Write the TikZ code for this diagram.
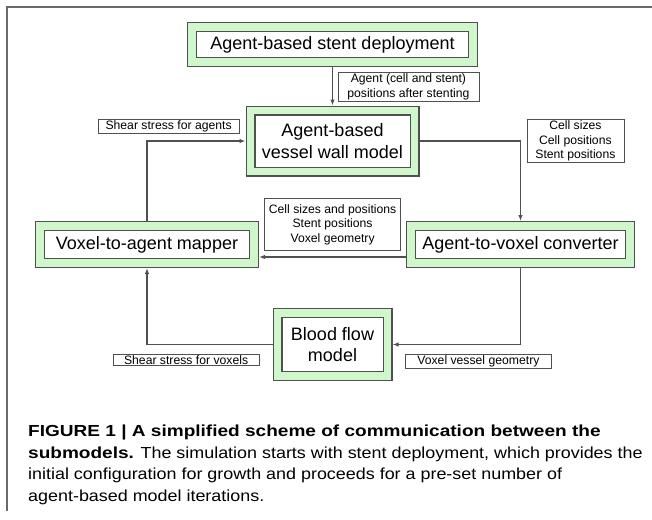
\documentclass[tikz,border=0pt]{standalone}
\usepackage{fontspec}
\setmainfont{Liberation Sans}
\newfontfamily\capfont[FakeStretch=1.12, BoldFeatures={FakeStretch=1.19}]{Liberation Sans}
\usetikzlibrary{arrows.meta}

\definecolor{boxgreen}{RGB}{208,247,204}
\definecolor{linegray}{RGB}{80,80,80}
\definecolor{framegray}{RGB}{105,105,105}

\tikzset{
    model/.style={draw=linegray, line width=1.1pt, double=boxgreen, double distance=7.8pt,
        fill=white, outer sep=5pt, inner sep=0pt, align=center,
        font=\fontsize{18}{21.6}\selectfont},
    lbl/.style={draw=linegray, line width=0.8pt, fill=white, align=center,
        inner xsep=4pt, inner ysep=1.5pt, font=\fontsize{12.2}{14.5}\selectfont},
    flow/.style={draw=linegray, line width=1.1pt, -{Latex[length=6pt,width=4.5pt]}},
}

\begin{document}
\begin{tikzpicture}[x=1pt, y=-1pt]
\useasboundingbox (0,0) rectangle (652,519);
\draw[framegray, line width=2pt] (652,7) -- (7,7) -- (7,511);

% submodels
\node[model, minimum width=281pt, minimum height=35pt] (deploy) at (332.5,44.75)
    {Agent-based stent deployment};
\node[model, minimum width=164pt, minimum height=61pt] (wall) at (332.5,141)
    {Agent-based\\vessel wall model};
\node[model, minimum width=214pt, minimum height=37pt] (mapper) at (147,244.5)
    {Voxel-to-agent mapper};
\node[model, minimum width=219pt, minimum height=37pt] (converter) at (520.5,244.5)
    {Agent-to-voxel converter};
\node[model, minimum width=110pt, minimum height=63pt] (blood) at (332.5,344.5)
    {Blood flow\\model};

% data passed between them
\draw[flow] (deploy.south) -- (wall.north);
\draw[flow] (wall.east) -| (converter.north);
\draw[flow] (converter.south) |- (blood.east);
\draw[flow] (blood.west) -| (mapper.south);
\draw[flow] (mapper.north) |- (wall.west);
\draw[flow] ([yshift=-12.5pt]converter.west) -- ([yshift=-12.5pt]mapper.east);

\node[lbl, anchor=north west, minimum width=141pt] (posLbl)
    at ([xshift=5pt,yshift=-5pt]deploy.south) {Agent (cell and stent)\\positions after stenting};
\node[lbl, anchor=south east, minimum width=141pt] (shearAgLbl)
    at ([xshift=-6pt,yshift=7pt]wall.west) {Shear stress for agents};
\node[lbl, anchor=west, minimum width=97pt] (cellLbl)
    at ([xshift=6pt]converter.north |- wall.east) {Cell sizes\\Cell positions\\Stent positions};
\node[lbl, anchor=south east, minimum width=136pt, minimum height=52pt] (voxLbl)
    at ([xshift=-5pt,yshift=-6.5pt]converter.west) {Cell sizes and positions\\Stent positions\\Voxel geometry};
\node[lbl, anchor=north east, minimum width=146pt] (shearVoxLbl)
    at ([xshift=-13pt,yshift=-9pt]blood.west) {Shear stress for voxels};
\node[lbl, anchor=north west, minimum width=146pt] (geomLbl)
    at ([xshift=12.5pt,yshift=-9pt]blood.east) {Voxel vessel geometry};

% caption
\node[anchor=north west, align=left, inner sep=0pt, font=\capfont\fontsize{16}{21.5}\selectfont] (caption)
    at (28,425) {\textbf{FIGURE 1 | A simplified scheme of communication between the}\\
    \textbf{submodels.} The simulation starts with stent deployment, which provides the\\
    initial configuration for growth and proceeds for a pre-set number of\\
    agent-based model iterations.};
\end{tikzpicture}
\end{document}
